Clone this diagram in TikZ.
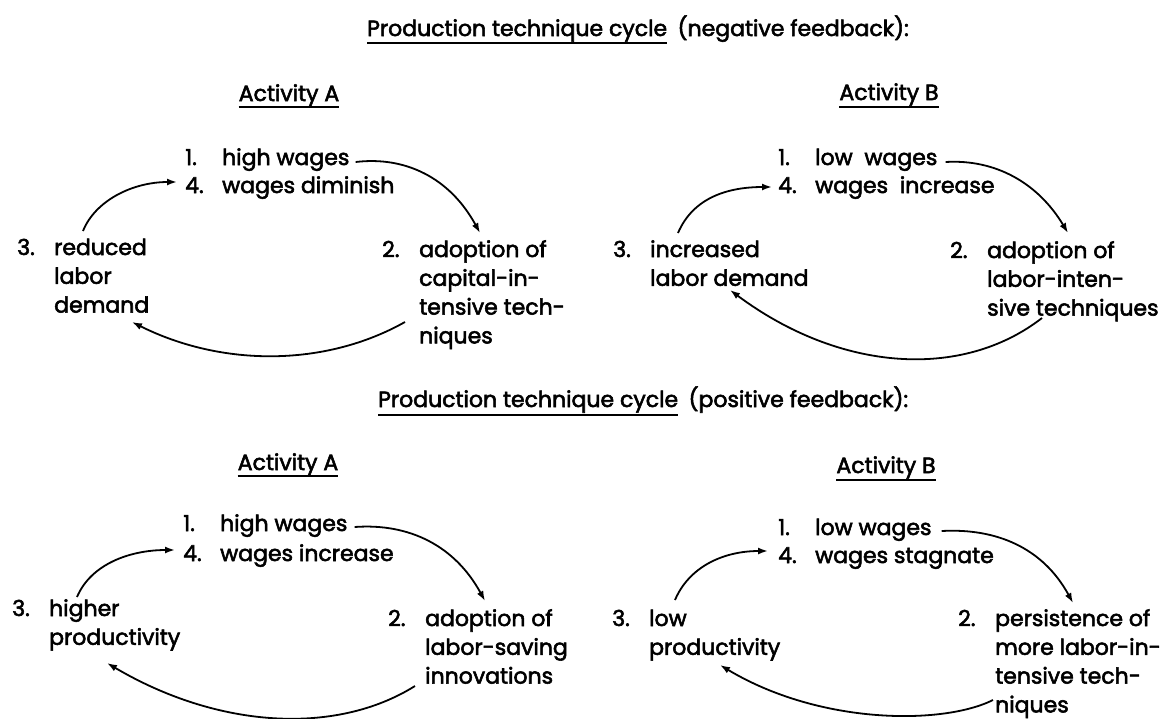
\documentclass[tikz,border=0pt]{standalone}
\usepackage{fontspec}
\setmainfont{Poppins}[UprightFeatures={FakeBold=2.5}]
\usetikzlibrary{arrows.meta}
\newcommand\nmb[1]{\makebox[37pt][l]{#1}}
\begin{document}
\begin{tikzpicture}[x=1pt,y=-1pt,
  txt/.style={inner sep=0pt, anchor=base west, font=\fontsize{22}{28.8}\selectfont},
  conn/.style={line width=1.8pt, -{Latex[length=10pt,width=7pt]}},
  ul/.style={line width=1.5pt}]
\useasboundingbox (0,0) rectangle (1165,718);

% ---------- titles ----------
\node[txt] (t1a) at (367,36) {Production technique cycle};
\node[txt] (t1b) at ([xshift=10pt]t1a.base east) {(negative feedback):};
\draw[ul] ([shift={(0,7)}]t1a.base west) -- ([shift={(0,7)}]t1a.base east);

\node[txt] (t2a) at (378,407) {Production technique cycle};
\node[txt] (t2b) at ([xshift=10pt]t2a.base east) {(positive feedback):};
\draw[ul] ([shift={(0,8)}]t2a.base west) -- ([shift={(0,8)}]t2a.base east);

\node[txt, anchor=base] (hA1) at (289,101) {Activity A};
\draw[ul] ([shift={(0,6)}]hA1.base west) -- ([shift={(0,6)}]hA1.base east);
\node[txt, anchor=base] (hB1) at (889,100) {Activity B};
\draw[ul] ([shift={(0,7)}]hB1.base west) -- ([shift={(0,7)}]hB1.base east);
\node[txt, anchor=base] (hA2) at (288,470) {Activity A};
\draw[ul] ([shift={(0,6)}]hA2.base west) -- ([shift={(0,6)}]hA2.base east);
\node[txt, anchor=base] (hB2) at (886,473) {Activity B};
\draw[ul] ([shift={(0,7)}]hB2.base west) -- ([shift={(0,7)}]hB2.base east);

% ---------- top left ----------
\node[txt] (tl1) at (185,165) {\nmb{1.}high wages};
\node[txt] (tl4) at (185,193) {\nmb{4.}wages diminish};
\node[txt] (tl3) at (17,255) {\begin{tabular}[t]{@{}l@{}l@{}}\nmb{3.}&reduced\\&labor\\&demand\end{tabular}};
\node[txt] (tl2) at (382,257) {\begin{tabular}[t]{@{}l@{}l@{}}\nmb{2.}&adoption of\\&capital-in-\\&tensive tech-\\&niques\end{tabular}};
\draw[conn] ([shift={(6,-3)}]tl1.base east) .. controls +(50,-6) and +(-30,-55) .. ([shift={(98,-24)}]tl2.base west);
\draw[conn] ([shift={(66,-24)}]tl3.base west) .. controls +(12,-30) and +(-45,0) .. ([shift={(-8,-11)}]tl4.base west);
\draw[conn] ([shift={(23,65)}]tl2.base west) .. controls +(-80,45) and +(90,45) .. ([shift={(115,67)}]tl3.base west);

% ---------- top right ----------
\node[txt] (tr1) at (778,165) {\nmb{1.}low\ \ wages};
\node[txt] (tr4) at (778,193) {\nmb{4.}wages\ \ increase};
\node[txt] (tr3) at (613,257) {\begin{tabular}[t]{@{}l@{}l@{}}\nmb{3.}&increased\\&labor demand\end{tabular}};
\node[txt] (tr2) at (950,258) {\begin{tabular}[t]{@{}l@{}l@{}}\nmb{2.}&adoption of\\&labor-inten-\\&sive techniques\end{tabular}};
\draw[conn] ([shift={(8,-3)}]tr1.base east) .. controls +(50,-3) and +(-30,-50) .. ([shift={(118,-25)}]tr2.base west);
\draw[conn] ([shift={(65,-24)}]tr3.base west) .. controls +(15,-35) and +(-45,0) .. ([shift={(-6,-6)}]tr4.base west);
\draw[conn] ([shift={(92,60)}]tr2.base west) .. controls +(-80,62) and +(110,82) .. ([shift={(117,33)}]tr3.base west);

% ---------- bottom left ----------
\node[txt] (bl1) at (183,531) {\nmb{1.}high wages};
\node[txt] (bl4) at (183,561) {\nmb{4.}wages increase};
\node[txt] (bl3) at (12,616) {\begin{tabular}[t]{@{}l@{}l@{}}\nmb{3.}&higher\\&productivity\end{tabular}};
\node[txt] (bl2) at (388,626) {\begin{tabular}[t]{@{}l@{}l@{}}\nmb{2.}&adoption of\\&labor-saving\\&innovations\end{tabular}};
\draw[conn] ([shift={(7,-4)}]bl1.base east) .. controls +(55,-4) and +(-30,-55) .. ([shift={(97,-25)}]bl2.base west);
\draw[conn] ([shift={(65,-19)}]bl3.base west) .. controls +(14,-33) and +(-45,0) .. ([shift={(-8,-11)}]bl4.base west);
\draw[conn] ([shift={(27,60)}]bl2.base west) .. controls +(-80,50) and +(110,65) .. ([shift={(95,47)}]bl3.base west);

% ---------- bottom right ----------
\node[txt] (br1) at (778,535) {\nmb{1.}low wages};
\node[txt] (br4) at (778,563) {\nmb{4.}wages stagnate};
\node[txt] (br3) at (612,626) {\begin{tabular}[t]{@{}l@{}l@{}}\nmb{3.}&low\\&productivity\end{tabular}};
\node[txt] (br2) at (958,626) {\begin{tabular}[t]{@{}l@{}l@{}}\nmb{2.}&persistence of\\&more labor-in-\\&tensive tech-\\&niques\end{tabular}};
\draw[conn] ([shift={(10,-4)}]br1.base east) .. controls +(55,-3) and +(-30,-55) .. ([shift={(115,-23)}]br2.base west);
\draw[conn] ([shift={(63,-26)}]br3.base west) .. controls +(14,-33) and +(-45,0) .. ([shift={(-10,-12)}]br4.base west);
\draw[conn] ([shift={(35,74)}]br2.base west) .. controls +(-50,25) and +(100,60) .. ([shift={(108,39)}]br3.base west);
\end{tikzpicture}
\end{document}
